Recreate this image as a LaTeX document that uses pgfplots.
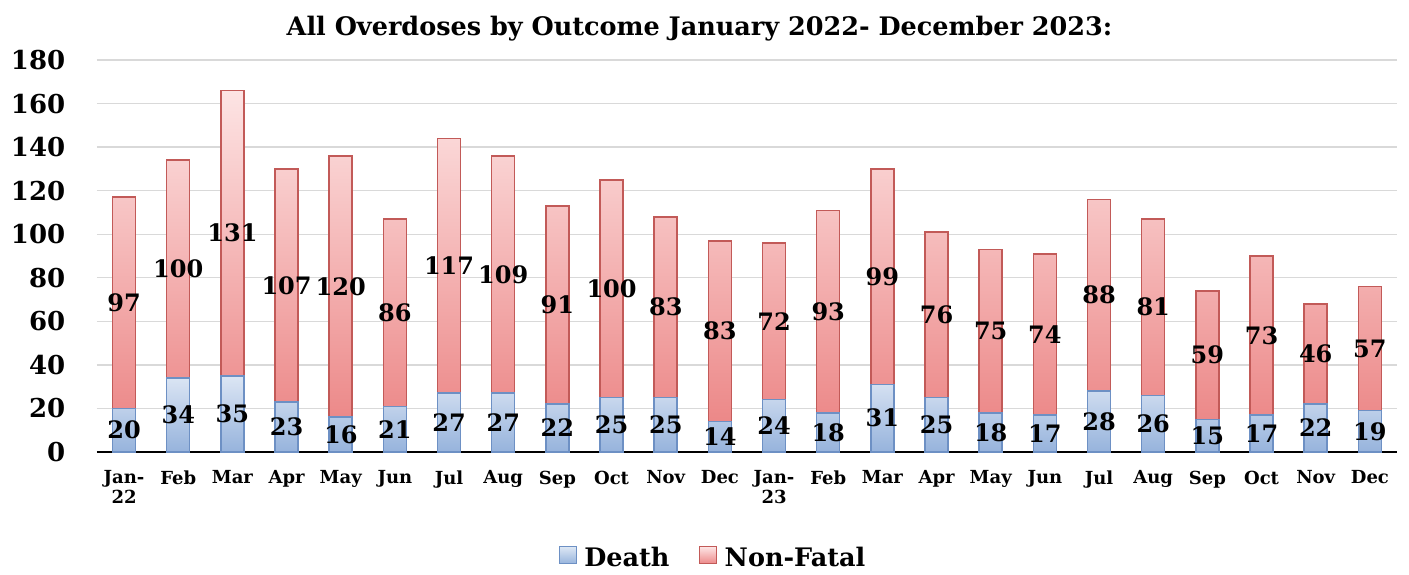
\documentclass[border=0pt]{standalone}
\usepackage{fontspec}
\setmainfont{DejaVu Serif}
\usepackage{pgfplots}
\usepackage{pgfplotstable}
\pgfplotsset{compat=1.18}
\definecolor{deathtop}{HTML}{DCE6F4}
\definecolor{deathbot}{HTML}{96B3DC}
\definecolor{deathdraw}{HTML}{6D90C4}
\definecolor{nftop}{HTML}{FDE4E4}
\definecolor{nfbot}{HTML}{EC8888}
\definecolor{nfdraw}{HTML}{C25A58}
\definecolor{gridc}{HTML}{D9D9D9}
\pgfplotstableread{
x death nonfatal
0 20 97
1 34 100
2 35 131
3 23 107
4 16 120
5 21 86
6 27 117
7 27 109
8 22 91
9 25 100
10 25 83
11 14 83
12 24 72
13 18 93
14 31 99
15 25 76
16 18 75
17 17 74
18 28 88
19 26 81
20 15 59
21 17 73
22 22 46
23 19 57
}\datatable
\pgfplotsset{
  base/.style={
    scale only axis, width=1300pt, height=392pt,
    at={(97pt,122pt)}, anchor=south west,
    xmin=-0.5, xmax=23.5, ymin=0, ymax=180,
    ybar stacked, bar width=23pt,
    /pgf/number format/assume math mode=true,
  }
}
\begin{document}
\begin{tikzpicture}
\useasboundingbox (0,0) rectangle (1409pt,574pt);
\begin{axis}[
  base,
  axis lines*=left,
  x axis line style={black, line width=1.6pt},
  y axis line style={draw=none},
  ytick={0,20,...,180},
  ytick style={draw=none},
  ymajorgrids, grid style={gridc, line width=1.3pt},
  xtick={0,...,23},
  xticklabels={{Jan-\\22},Feb,Mar,Apr,May,Jun,Jul,Aug,Sep,Oct,Nov,Dec,{Jan-\\23},Feb,Mar,Apr,May,Jun,Jul,Aug,Sep,Oct,Nov,Dec},
  xtick style={draw=none},
  minor xtick={-0.5,0.5,...,22.5},
  minor x tick style={black, line width=1.1pt},
  minor tick length=7pt,
  tick align=outside,
  yticklabel style={font=\fontsize{26}{28}\selectfont\bfseries, xshift=-24pt},
  xticklabel style={font=\fontsize{18}{20}\selectfont\bfseries, align=center, yshift=-11pt},
  title={All Overdoses by Outcome January 2022- December 2023:},
  title style={font=\fontsize{25.5}{28}\selectfont\bfseries, at={(axis description cs:0.4635,1)}, anchor=base, yshift=19pt},
  legend columns=2,
  legend style={draw=none, fill=none, at={(axis description cs:0.474,-0.27)}, anchor=center,
    font=\fontsize{25.5}{28}\selectfont\bfseries,
    /tikz/every even column/.append style={column sep=28pt}},
  legend image code/.code={\draw[#1, line width=1pt] (0pt,-6pt) rectangle (17pt,11pt); \path (22pt,0pt);},
]
\addplot[draw=deathdraw, line width=1.5pt, top color=deathtop, bottom color=deathbot] table[x=x, y=death] {\datatable};
\addlegendentry{Death}
\addplot[draw=nfdraw, line width=1.5pt, top color=nftop, bottom color=nfbot] table[x=x, y=nonfatal] {\datatable};
\addlegendentry{Non-Fatal}
\end{axis}
\begin{axis}[
  base, hide axis, clip=false,
  nodes near coords,
  point meta=explicit,
  every node near coord/.append style={anchor=center, text=black, font=\fontsize{24}{26}\selectfont\bfseries},
]
\addplot[draw=none, fill=none] table[x=x, y=death, meta=death] {\datatable};
\addplot[draw=none, fill=none] table[x=x, y=nonfatal, meta=nonfatal] {\datatable};
\end{axis}
\end{tikzpicture}
\end{document}
